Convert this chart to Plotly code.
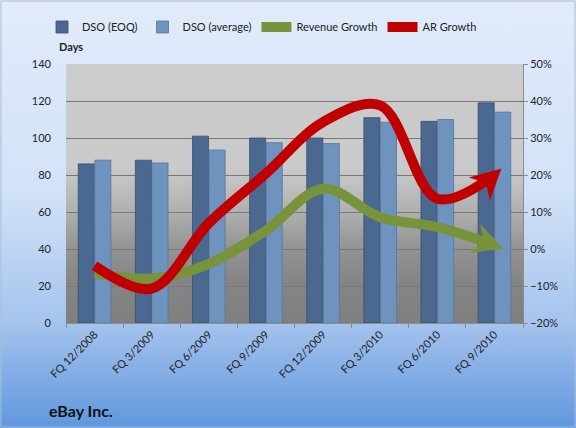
import base64
import math
import plotly.graph_objects as go

# quarters on the x axis
quarters = ['FQ 12/2008', 'FQ 3/2009', 'FQ 6/2009', 'FQ 9/2009',
            'FQ 12/2009', 'FQ 3/2010', 'FQ 6/2010', 'FQ 9/2010']

# days sales outstanding (left axis, days)
dso_eoq = [86, 88, 101, 100, 100, 111, 109, 119]
dso_avg = [88, 86.5, 93.5, 97.5, 97, 108.5, 110, 114]

# growth rates (right axis, %)
revenue_growth = [-6.5, -8, -4, 5, 16.3, 8.6, 5.9, 1]
ar_growth = [-4.5, -10.7, 7, 20.4, 34.3, 38.8, 13.6, 20]

W, H = 576, 428
L, R, T, B = 66, 53, 64, 105
pw, ph = W - L - R, H - T - B
n = len(quarters)
y2min, y2max = -20, 50


def svg_gradient(stops):
    s = ''.join('<stop offset="%s" stop-color="%s"/>' % (o, c) for o, c in stops)
    svg = ('<svg xmlns="http://www.w3.org/2000/svg" width="100" height="100" preserveAspectRatio="none">'
           '<defs><linearGradient id="g" x1="0" y1="0" x2="0" y2="1">' + s +
           '</linearGradient></defs><rect width="100" height="100" fill="url(#g)"/></svg>')
    return 'data:image/svg+xml;base64,' + base64.b64encode(svg.encode()).decode()


# pixel <-> data helpers for the right-axis series (used for the arrow heads)
def to_px(i, v):
    return (i + 0.5) / n * pw, (y2max - v) / (y2max - y2min) * ph


def from_px(px, py):
    return px / pw * n - 0.5, y2max - py / ph * (y2max - y2min)


def arrow_head(vals, length=29, half=15, ext=9):
    p0 = to_px(n - 3, vals[-3])
    p1 = to_px(n - 2, vals[-2])
    p2 = to_px(n - 1, vals[-1])
    hx = p1[0] + (p2[0] - p0[0]) / 6
    hy = p1[1] + (p2[1] - p0[1]) / 6
    dx, dy = p2[0] - hx, p2[1] - hy
    d = math.hypot(dx, dy)
    ux, uy = dx / d, dy / d
    nx, ny = -uy, ux
    tip = (p2[0] + ext * ux, p2[1] + ext * uy)
    base = (tip[0] - length * ux, tip[1] - length * uy)
    notch = (tip[0] - 0.7 * length * ux, tip[1] - 0.7 * length * uy)
    pts = [tip, (base[0] + half * nx, base[1] + half * ny), notch,
           (base[0] - half * nx, base[1] - half * ny), tip]
    xs, ys = zip(*[from_px(*p) for p in pts])
    return list(xs), list(ys)


paper_bg = svg_gradient([(0, '#E1EBFB'), (0.45, '#D2E2F8'), (0.75, '#A6C4ED'), (1, '#5F97DE')])
plot_bg = svg_gradient([(0, '#CCCCCC'), (0.4, '#CACACA'), (0.57, '#B0B0B0'),
                        (0.7, '#959595'), (0.84, '#858585'), (1, '#7F7F7F')])

idx = list(range(n))

fig = go.Figure()
fig.add_trace(go.Bar(x=idx, y=dso_eoq, name='DSO (EOQ)',
                     marker=dict(color='#4A6890', line=dict(color='#384F6E', width=0.8))))
fig.add_trace(go.Bar(x=idx, y=dso_avg, name='DSO (average)',
                     marker=dict(color='#6F93BF', line=dict(color='#55769F', width=0.8))))
for name, vals, col in [('Revenue Growth', revenue_growth, '#77933C'),
                        ('AR Growth', ar_growth, '#C00000')]:
    fig.add_trace(go.Scatter(x=idx, y=vals, name=name, yaxis='y2', mode='lines',
                             line=dict(color=col, width=10, shape='spline')))
    ax, ay = arrow_head(vals)
    fig.add_trace(go.Scatter(x=ax, y=ay, yaxis='y2', mode='lines', fill='toself',
                             fillcolor=col, line=dict(color=col, width=0.5),
                             showlegend=False, hoverinfo='skip'))

fig.update_layout(
    width=W, height=H,
    margin=dict(l=L, r=R, t=T, b=B),
    paper_bgcolor='rgba(0,0,0,0)', plot_bgcolor='rgba(0,0,0,0)',
    font=dict(family='Lato, sans-serif', size=11, color='#222222'),
    barmode='group', bargap=0.42, bargroupgap=0.03,
    showlegend=True,
    legend=dict(orientation='h', x=(262 - L) / pw, xanchor='center',
                y=1 + (T - 27) / ph, yanchor='middle', font=dict(size=11),
                bgcolor='rgba(0,0,0,0)'),
    xaxis=dict(tickvals=idx, ticktext=quarters, range=[-0.5, n - 0.5],
               tickangle=-45, showgrid=False, showline=True, linecolor='#8C8C8C',
               ticks='', zeroline=False, tickfont=dict(size=11),
               minor=dict(tickvals=[i - 0.5 for i in range(n + 1)], ticks='outside',
                          ticklen=4, tickcolor='#8C8C8C', showgrid=False)),
    yaxis=dict(range=[0, 140], dtick=20, showgrid=True, gridcolor='#787878', gridwidth=1,
               zeroline=False, showline=False, tickfont=dict(size=11), ticks='',
               ticklabelstandoff=14),
    yaxis2=dict(range=[y2min, y2max], dtick=10, overlaying='y', side='right', showgrid=False,
                zeroline=False, ticksuffix='%', showline=True, linecolor='#8C8C8C',
                ticks='outside', ticklen=4, tickcolor='#8C8C8C', tickfont=dict(size=11)),
    images=[
        dict(source=paper_bg, xref='paper', yref='paper', x=-L / pw, y=1 + T / ph,
             sizex=W / pw, sizey=H / ph, sizing='stretch', layer='below'),
        dict(source=plot_bg, xref='paper', yref='paper', x=0, y=1,
             sizex=1, sizey=1, sizing='stretch', layer='below'),
    ],
    shapes=[dict(type='rect', xref='paper', yref='paper',
                 x0=(-L + 1) / pw, x1=1 + (R - 1) / pw, y0=-(B - 1) / ph, y1=1 + (T - 1) / ph,
                 line=dict(color='#A9BED9', width=1))],
    annotations=[
        dict(text='<b>Days</b>', xref='paper', yref='paper', x=0.01, y=1 + (T - 47) / ph,
             showarrow=False, xanchor='center', yanchor='middle', font=dict(size=11)),
        dict(text='<b>eBay Inc.</b>', xref='paper', yref='paper', x=(47 - L) / pw,
             y=-(410 - (H - B)) / ph, showarrow=False, xanchor='left', yanchor='middle',
             font=dict(size=16, color='#111111')),
    ],
)

fig.write_html('out.html', config={'displayModeBar': False},
               post_script="document.body.style.margin='0';")
